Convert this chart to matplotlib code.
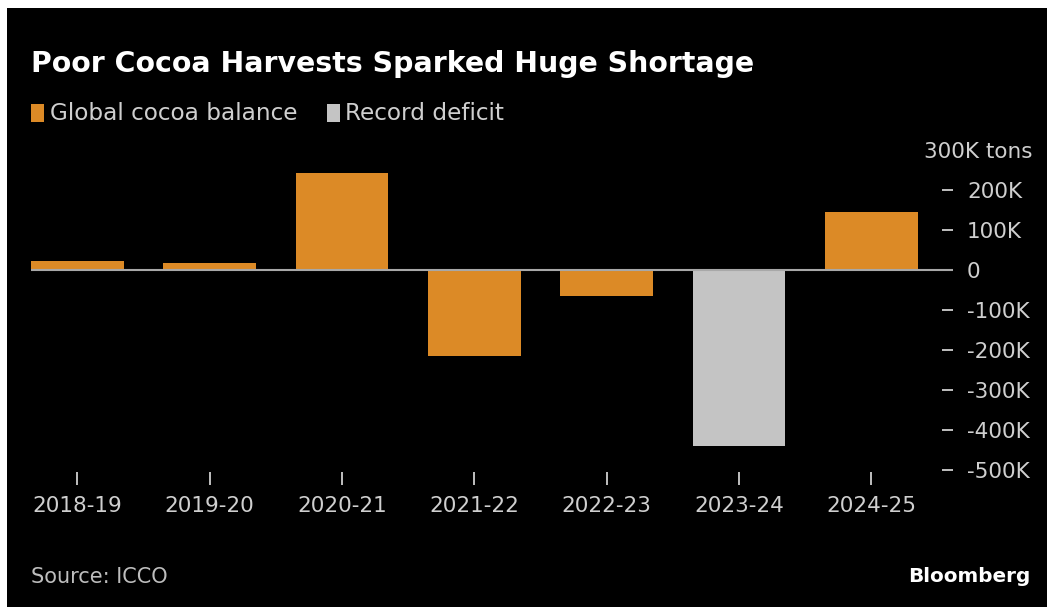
import matplotlib
matplotlib.use('Agg')
import matplotlib.pyplot as plt
from matplotlib.patches import Rectangle
from matplotlib.transforms import blended_transform_factory

seasons = ['2018-19', '2019-20', '2020-21', '2021-22', '2022-23', '2023-24', '2024-25']
balance = [22, 18, 243, -215, -65, -440, 145]  # thousand tons
record = [False, False, False, False, False, True, False]
yticks = [300, 200, 100, 0, -100, -200, -300, -400, -500]
ylabels = ['', '200K', '100K', '0', '-100K', '-200K', '-300K', '-400K', '-500K']
top_label = '300K tons'

orange = '#dc8a26'
grey = '#c4c4c4'
txt = '#cfcfcf'

W, H = 1047, 607
fig = plt.figure(figsize=(W / 100, H / 100), dpi=100, facecolor='white')
fig.patches.append(Rectangle((7 / W, 0), 1, 1 - 8 / H, transform=fig.transFigure,
                             facecolor='black', edgecolor='none', zorder=-5))

ax = fig.add_axes([31 / W, 1 - 472 / H, (953 - 31) / W, (472 - 150) / H])
ax.set_facecolor('black')
colors = [grey if r else orange for r in record]
ax.bar(range(len(seasons)), balance, width=0.70, color=colors, zorder=2)
ax.axhline(0, color='#a8a8a8', lw=1.5, zorder=3)
ax.set_xlim(-0.35, 6.616)
ax.set_ylim(-505, 300)

for s in ax.spines.values():
    s.set_visible(False)
ax.yaxis.tick_right()
ax.set_yticks(yticks)
ax.set_yticklabels(ylabels)
ax.tick_params(axis='y', direction='in', length=8, width=1.3, color=txt,
               labelcolor=txt, labelsize=15.5, pad=10)
ax.set_xticks(range(len(seasons)))
ax.set_xticklabels(seasons)
ax.tick_params(axis='x', direction='out', length=9, width=1.3, color=txt,
               labelcolor=txt, labelsize=15.5, pad=8)
# no tick mark on the unit label, zero uses the baseline itself
ax.get_yticklines()[1].set_visible(False)
trans = blended_transform_factory(fig.transFigure, ax.transData)
ax.text(1032 / W, yticks[0] - 5, top_label, color=txt, fontsize=15.5,
        ha='right', va='center', transform=trans)

fig.text(31 / W, 1 - 72 / H, 'Poor Cocoa Harvests Sparked Huge Shortage',
         color='white', fontsize=20.4, fontweight='bold', va='baseline')

fig.patches.append(Rectangle((31 / W, 1 - 122 / H), 13 / W, 18 / H, transform=fig.transFigure,
                             facecolor=orange, edgecolor='none'))
fig.text(50 / W, 1 - 113 / H, 'Global cocoa balance', color=txt, fontsize=16.7, va='center')
fig.patches.append(Rectangle((327 / W, 1 - 122 / H), 13 / W, 18 / H, transform=fig.transFigure,
                             facecolor=grey, edgecolor='none'))
fig.text(345 / W, 1 - 113 / H, 'Record deficit', color=txt, fontsize=16.7, va='center')

fig.text(31 / W, 1 - 577 / H, 'Source: ICCO', color='#bdbdbd', fontsize=15, va='center')
fig.text(1030 / W, 1 - 576 / H, 'Bloomberg', color='white', fontsize=14.4,
         fontweight='bold', va='center', ha='right')

fig.savefig('out.png', dpi=100, facecolor=fig.get_facecolor())
